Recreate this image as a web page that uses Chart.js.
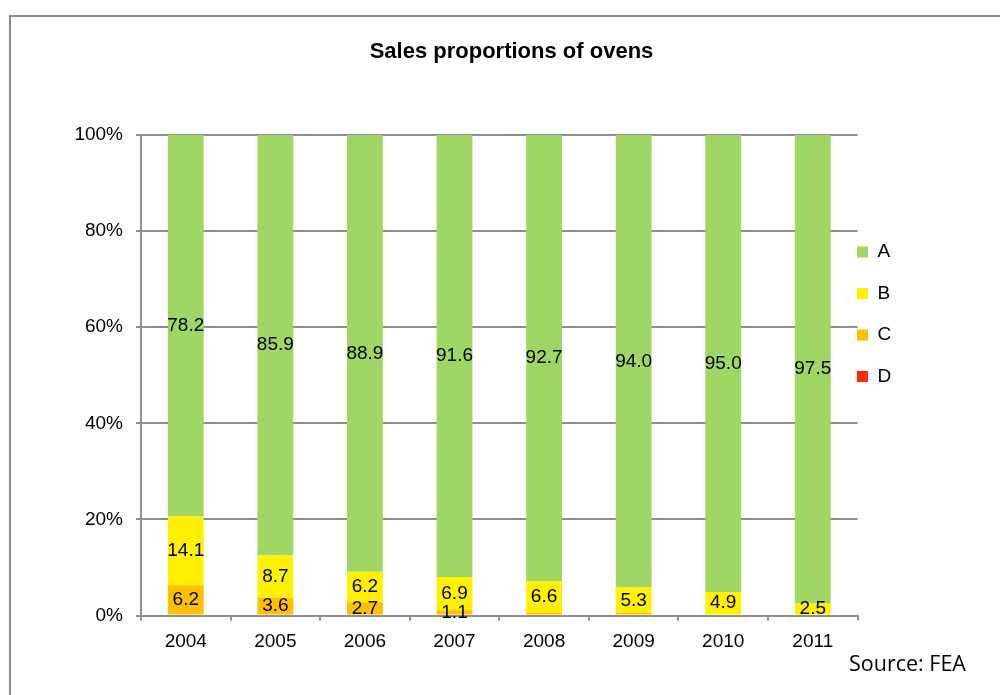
<!DOCTYPE html>
<html><head><meta charset="utf-8">
<script src="https://cdn.jsdelivr.net/npm/chart.js@4.4.1/dist/chart.umd.min.js"></script>
<style>
html,body{margin:0;padding:0;background:#fff;width:1000px;height:695px;overflow:hidden;}
#c{position:absolute;left:0;top:0;}
#frame{position:absolute;left:9px;top:15px;width:1100px;height:800px;border:2px solid #8c8c8c;box-sizing:border-box;pointer-events:none;}
#src{position:absolute;left:849px;top:652px;font-family:'Open Sans',sans-serif;font-size:21.5px;line-height:21px;color:#000;white-space:nowrap;}
</style></head><body>
<canvas id="c" width="1000" height="695"></canvas>
<div id="frame"></div>
<div id="src">Source: FEA</div>
<script>
const categories = ['2004','2005','2006','2007','2008','2009','2010','2011'];
const seriesA = [78.2, 85.9, 88.9, 91.6, 92.7, 94.0, 95.0, 97.5];
const seriesB = [14.1, 8.7, 6.2, 6.9, 6.6, 5.3, 4.9, 2.5];
const seriesC = [6.2, 3.6, 2.7, 1.1, 0.5, 0.5, 0, 0];
const seriesD = [0, 0, 0, 0, 0, 0, 0, 0];
const seriesNames = ['A', 'B', 'C', 'D'];
const yTickLabels = ['0%', '20%', '40%', '60%', '80%', '100%'];
const chartTitle = 'Sales proportions of ovens';

const FONT = "'Liberation Sans', Arial, sans-serif";
const GRAY = '#8f8f8f';
const colors = {A: '#a0d664', B: '#fff100', C: '#ffc000', D: '#ff2a00'};

const raw = {A: seriesA, B: seriesB, C: seriesC, D: seriesD};
const totals = categories.map((_, j) => seriesA[j] + seriesB[j] + seriesC[j] + seriesD[j]);
// bottom-to-top stacking order: D, C, B, A
const datasets = ['D', 'C', 'B', 'A'].map(name => ({
  label: name,
  data: raw[name].map((v, j) => v / totals[j] * 100),
  rawValues: raw[name],
  backgroundColor: colors[name],
  borderWidth: 0,
  barPercentage: 0.4,
  categoryPercentage: 1.0
}));

const valueLabels = {
  id: 'valueLabels',
  afterDatasetsDraw(chart) {
    const ctx = chart.ctx;
    ctx.save();
    ctx.font = '19px ' + FONT;
    ctx.fillStyle = '#000';
    ctx.textAlign = 'center';
    ctx.textBaseline = 'middle';
    chart.data.datasets.forEach((ds, i) => {
      const meta = chart.getDatasetMeta(i);
      meta.data.forEach((el, j) => {
        const v = ds.rawValues[j];
        if (!(v >= 1)) return;
        ctx.fillText(v.toFixed(1), el.x, (el.y + el.base) / 2);
      });
    });
    ctx.restore();
  }
};

const boxPlace = {
  id: 'boxPlace',
  afterLayout(chart) {
    const lg = chart.legend;
    if (lg) {
      const pad = lg.options.labels.padding;
      const w = lg.width, h = lg.height;
      lg.left = 857 - pad; lg.right = lg.left + w;
      lg.top = 220; lg.bottom = lg.top + h;
    }
    const tb = chart.titleBlock;
    if (tb) { tb.left = 0; tb.right = 1023; tb.width = 1023; }
  }
};

new Chart(document.getElementById('c'), {
  type: 'bar',
  data: {labels: categories, datasets: datasets},
  options: {
    responsive: false,
    animation: false,
    devicePixelRatio: 1,
    events: [],
    layout: {padding: {left: 0, right: 75.7, top: 0, bottom: 0}},
    plugins: {
      title: {
        display: true, text: chartTitle, color: '#000',
        font: {family: FONT, size: 22, weight: 'bold'},
        padding: {top: 39, bottom: 69.6}
      },
      legend: {
        position: 'right', align: 'start', fullSize: false, reverse: true,
        labels: {boxWidth: 11, boxHeight: 11, padding: 22.5, color: '#000', font: {family: FONT, size: 19}}
      },
      tooltip: {enabled: false}
    },
    scales: {
      x: {
        stacked: true, offset: true,
        grid: {display: true, drawOnChartArea: false, drawTicks: true, tickLength: 5, offset: true, color: GRAY, lineWidth: 2},
        border: {display: true, color: GRAY, width: 2},
        ticks: {color: '#000', font: {family: FONT, size: 19}, padding: 10, maxRotation: 0, autoSkip: false},
        afterFit: s => { s.height = 79.5; }
      },
      y: {
        stacked: true, min: 0, max: 100,
        ticks: {stepSize: 20, color: '#000', font: {family: FONT, size: 19}, padding: 13,
                callback: (v, i) => yTickLabels[i]},
        grid: {color: GRAY, lineWidth: 2, tickLength: 5, drawTicks: true},
        border: {display: true, color: GRAY, width: 2},
        afterFit: s => { s.width = 141; }
      }
    }
  },
  plugins: [valueLabels, boxPlace]
});
</script>
</body></html>
